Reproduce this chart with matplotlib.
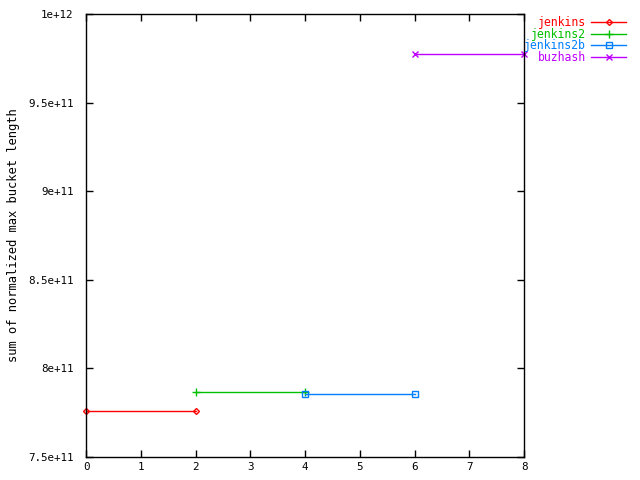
import matplotlib
matplotlib.use("Agg")
import matplotlib.pyplot as plt
from matplotlib.ticker import FuncFormatter

# Data
series_names = ["jenkins", "jenkins2", "jenkins2b", "buzhash"]
series_x = [[0, 2], [2, 4], [4, 6], [6, 8]]
series_y = [
    [7.76e11, 7.76e11],
    [7.867e11, 7.867e11],
    [7.856e11, 7.856e11],
    [9.774e11, 9.774e11],
]
colors = ["#ff0000", "#00c000", "#0080ff", "#c000ff"]
markers = ["D", "+", "s", "x"]
marker_sizes = [3, 6, 5, 5]

x_ticks = [0, 1, 2, 3, 4, 5, 6, 7, 8]
y_ticks = [7.5e11, 8e11, 8.5e11, 9e11, 9.5e11, 1e12]

plt.rcParams["font.family"] = "DejaVu Sans Mono"
plt.rcParams["font.size"] = 7.8

fig = plt.figure(figsize=(6.4, 4.8), dpi=100)
ax = fig.add_axes([86 / 640, 23 / 480, (524 - 86) / 640, (457 - 14) / 480])

for name, xs, ys, c, m, ms in zip(series_names, series_x, series_y, colors, markers, marker_sizes):
    ax.plot(xs, ys, color=c, marker=m, markersize=ms, linewidth=1,
            markerfacecolor="none", markeredgewidth=1, label=name, clip_on=False)

ax.set_xlim(0, 8)
ax.set_ylim(7.5e11, 1e12)
ax.set_xticks(x_ticks)
ax.set_yticks(y_ticks)


def sci(v, pos):
    m, e = f"{v:e}".split("e")
    m = m.rstrip("0").rstrip(".")
    return f"{m}e+{int(e)}"


ax.yaxis.set_major_formatter(FuncFormatter(sci))
ax.tick_params(direction="in", top=True, right=True, length=5, width=1)
ax.tick_params(axis="y", pad=9)
for s in ax.spines.values():
    s.set_linewidth(1)

ax.set_ylabel("sum of normalized max bucket length", fontsize=8.7, labelpad=6)

leg = ax.legend(loc="upper right", bbox_to_anchor=(626 / 640, 1 - 16 / 480),
                bbox_transform=fig.transFigure, markerfirst=False,
                frameon=False, fontsize=8.3, handlelength=3.0, handletextpad=0.45,
                labelspacing=-0.12, borderaxespad=0, borderpad=0)
for t, c in zip(leg.get_texts(), colors):
    t.set_color(c)

plt.savefig("out.png", dpi=100)
